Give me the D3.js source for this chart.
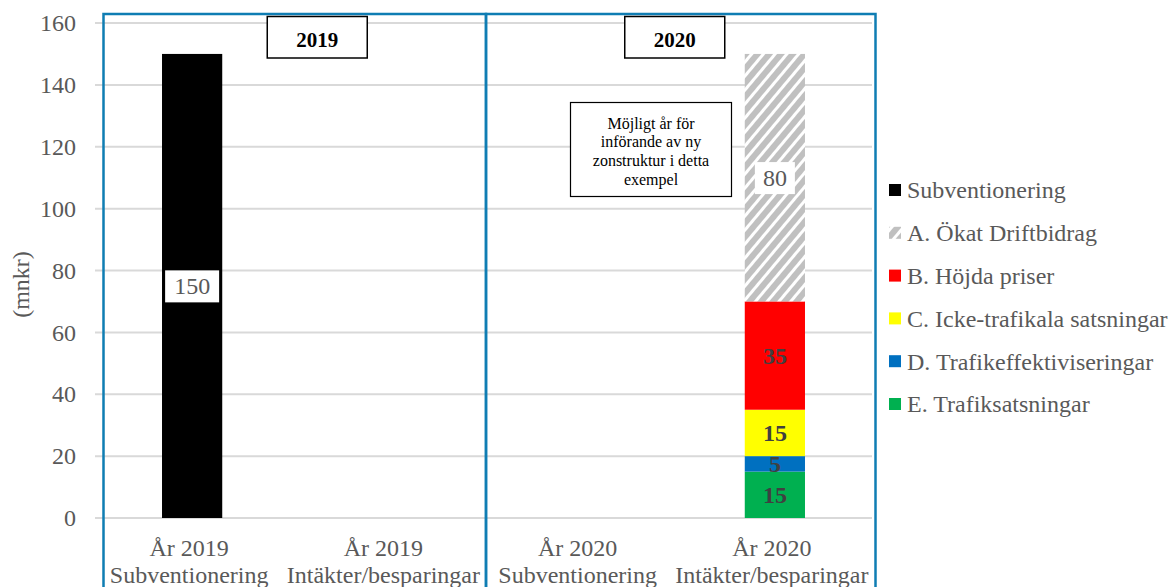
<!DOCTYPE html>
<html>
<head>
<meta charset="utf-8">
<script src="https://cdn.jsdelivr.net/npm/d3@7"></script>
<style>
  html, body { margin: 0; padding: 0; background: #fff; }
  svg { display: block; }
  svg text { font-family: "Liberation Serif", "Times New Roman", serif; }
</style>
</head>
<body>
<svg id="chart" width="1168" height="587"></svg>
<script>
// Categories (two lines each) and the stacked series
const categories = ["År 2019|Subventionering", "År 2019|Intäkter/besparingar", "År 2020|Subventionering", "År 2020|Intäkter/besparingar"];
const seriesNames = ["Subventionering", "E. Trafiksatsningar", "D. Trafikeffektiviseringar", "C. Icke-trafikala satsningar", "B. Höjda priser", "A. Ökat Driftbidrag"];
const subventionering = [150, 0, 0, 0];
const trafiksatsningar = [0, 0, 0, 15];
const trafikeffektiviseringar = [0, 0, 0, 5];
const ickeTrafikala = [0, 0, 0, 15];
const hojdaPriser = [0, 0, 0, 35];
const okatDriftbidrag = [0, 0, 0, 80];
const legendOrder = ["Subventionering", "A. Ökat Driftbidrag", "B. Höjda priser", "C. Icke-trafikala satsningar", "D. Trafikeffektiviseringar", "E. Trafiksatsningar"];
const yTicks = [0, 20, 40, 60, 80, 100, 120, 140, 160];
const yearLabels = ["2019", "2020"];
const noteLines = ["Möjligt år för", "införande av ny", "zonstruktur i detta", "exempel"];
const axisTitle = "(mnkr)";

const colors = {
  "Subventionering": "#000000",
  "A. Ökat Driftbidrag": "url(#hatch)",
  "B. Höjda priser": "#ff0000",
  "C. Icke-trafikala satsningar": "#ffff00",
  "D. Trafikeffektiviseringar": "#0070c0",
  "E. Trafiksatsningar": "#00b050"
};
const labelStyle = {
  "Subventionering": { box: true, bold: false, padX: 9 },
  "A. Ökat Driftbidrag": { box: true, bold: false, padX: 8 },
  "B. Höjda priser": { box: false, bold: true },
  "C. Icke-trafikala satsningar": { box: false, bold: true },
  "D. Trafikeffektiviseringar": { box: false, bold: true },
  "E. Trafiksatsningar": { box: false, bold: true }
};

const table = categories.map((c, i) => ({
  cat: c,
  "Subventionering": subventionering[i],
  "E. Trafiksatsningar": trafiksatsningar[i],
  "D. Trafikeffektiviseringar": trafikeffektiviseringar[i],
  "C. Icke-trafikala satsningar": ickeTrafikala[i],
  "B. Höjda priser": hojdaPriser[i],
  "A. Ökat Driftbidrag": okatDriftbidrag[i]
}));

const svg = d3.select("#chart");
const plot = { left: 95, right: 872, top: 23, bottom: 518 };
const textGray = "#595959";
const fontSize = 24;

// Diagonal hatch pattern for the operating-grant segment
const defs = svg.append("defs");
const pat = defs.append("pattern")
  .attr("id", "hatch").attr("patternUnits", "userSpaceOnUse")
  .attr("width", 9).attr("height", 9)
  .attr("patternTransform", "rotate(40)");
pat.append("rect").attr("width", 9).attr("height", 9).attr("fill", "#ffffff");
pat.append("rect").attr("width", 6).attr("height", 9).attr("fill", "#c0c0c0");

const x = d3.scaleBand().domain(categories).range([plot.left, plot.right]).padding(0);
const y = d3.scaleLinear().domain([0, 160]).range([plot.bottom, plot.top]);
const barW = x.bandwidth() * 0.31;

// Gridlines
svg.append("g").selectAll("line").data(yTicks).join("line")
  .attr("x1", plot.left).attr("x2", plot.right)
  .attr("y1", d => y(d)).attr("y2", d => y(d))
  .attr("stroke", "#d9d9d9").attr("stroke-width", 2);

// Y axis tick labels
const yAxis = d3.axisLeft(y).tickValues(yTicks).tickSize(0).tickPadding(0);
const gy = svg.append("g").attr("transform", `translate(${plot.left - 19},0)`).call(yAxis);
gy.select(".domain").remove();
gy.selectAll("text").attr("font-size", fontSize).attr("fill", textGray);

svg.append("text")
  .attr("transform", `translate(29,${(plot.top + plot.bottom) / 2 + 14}) rotate(-90)`)
  .attr("text-anchor", "middle").attr("font-size", fontSize).attr("fill", textGray)
  .text(axisTitle);

// Stacked bars
const stack = d3.stack().keys(seriesNames);
const layers = stack(table);
const gBars = svg.append("g");
layers.forEach(layer => {
  const key = layer.key;
  gBars.append("g").selectAll("rect")
    .data(layer.map((d, i) => ({ d, cat: categories[i] })).filter(o => o.d[1] - o.d[0] > 0))
    .join("rect")
    .attr("x", o => x(o.cat) + (x.bandwidth() - barW) / 2)
    .attr("width", barW)
    .attr("y", o => y(o.d[1]))
    .attr("height", o => y(o.d[0]) - y(o.d[1]))
    .attr("fill", colors[key]);
});

// Value labels
const gLabels = svg.append("g");
layers.forEach(layer => {
  const key = layer.key;
  const st = labelStyle[key];
  layer.forEach((d, i) => {
    const v = d[1] - d[0];
    if (v <= 0) return;
    const cx = x(categories[i]) + x.bandwidth() / 2;
    const cy = y((d[0] + d[1]) / 2);
    const g = gLabels.append("g");
    const t = g.append("text")
      .attr("x", cx).attr("y", cy).attr("dy", "0.35em")
      .attr("text-anchor", "middle").attr("font-size", fontSize)
      .attr("font-weight", st.bold ? "bold" : "normal")
      .attr("fill", st.bold ? "#404040" : textGray)
      .text(v);
    if (st.box) {
      const bb = t.node().getBBox();
      g.insert("rect", "text")
        .attr("x", bb.x - st.padX).attr("y", bb.y - 3)
        .attr("width", bb.width + 2 * st.padX).attr("height", bb.height + 6)
        .attr("fill", "#ffffff");
    }
  });
});

// Year frames
const frameColor = "#0f7db3";
const frameTop = 14;
const frameLeft = plot.left + 8.5;
const frameMid = x(categories[2]) + 2.5;
const frameRight = plot.right + 3.5;
const frames = svg.append("g").attr("fill", "none").attr("stroke", frameColor).attr("stroke-width", 2.5);
frames.append("rect").attr("x", frameLeft).attr("y", frameTop).attr("width", frameMid - frameLeft).attr("height", 600);
frames.append("rect").attr("x", frameMid).attr("y", frameTop).attr("width", frameRight - frameMid).attr("height", 600);

// Year boxes
const yearCenters = [x(categories[1]) + 28, x(categories[3]) - 3];
yearLabels.forEach((lab, i) => {
  const g = svg.append("g");
  g.append("rect").attr("x", yearCenters[i] - 50).attr("y", 16.5).attr("width", 100).attr("height", 41.5)
    .attr("fill", "#fff").attr("stroke", "#000").attr("stroke-width", 1.5);
  g.append("text").attr("x", yearCenters[i]).attr("y", 40).attr("dy", "0.35em")
    .attr("text-anchor", "middle").attr("font-size", 21).attr("font-weight", "bold").attr("fill", "#000")
    .text(lab);
});

// Note box
const note = svg.append("g");
note.append("rect").attr("x", 570.5).attr("y", 102.5).attr("width", 161).attr("height", 94)
  .attr("fill", "#fff").attr("stroke", "#000").attr("stroke-width", 1.2);
noteLines.forEach((l, i) => {
  note.append("text").attr("x", 651).attr("y", 123 + i * 18.8).attr("dy", "0.35em")
    .attr("text-anchor", "middle").attr("font-size", 16).attr("fill", "#000").text(l);
});

// Category labels
const gx = svg.append("g");
categories.forEach(c => {
  const [l1, l2] = c.split("|");
  const cx = x(c) + x.bandwidth() / 2 - 3;
  const t = gx.append("text").attr("text-anchor", "middle").attr("font-size", fontSize).attr("fill", textGray);
  t.append("tspan").attr("x", cx).attr("y", 556).text(l1);
  t.append("tspan").attr("x", cx).attr("y", 583).text(l2);
});

// Legend
const legend = svg.append("g").attr("transform", "translate(889,190)");
legendOrder.forEach((name, i) => {
  const g = legend.append("g").attr("transform", `translate(0,${i * 42.8})`);
  g.append("rect").attr("x", 0).attr("y", -6).attr("width", 12).attr("height", 12).attr("fill", colors[name]);
  g.append("text").attr("x", 18).attr("y", 0).attr("dy", "0.35em")
    .attr("font-size", fontSize).attr("fill", textGray).text(name);
});
</script>
</body>
</html>
